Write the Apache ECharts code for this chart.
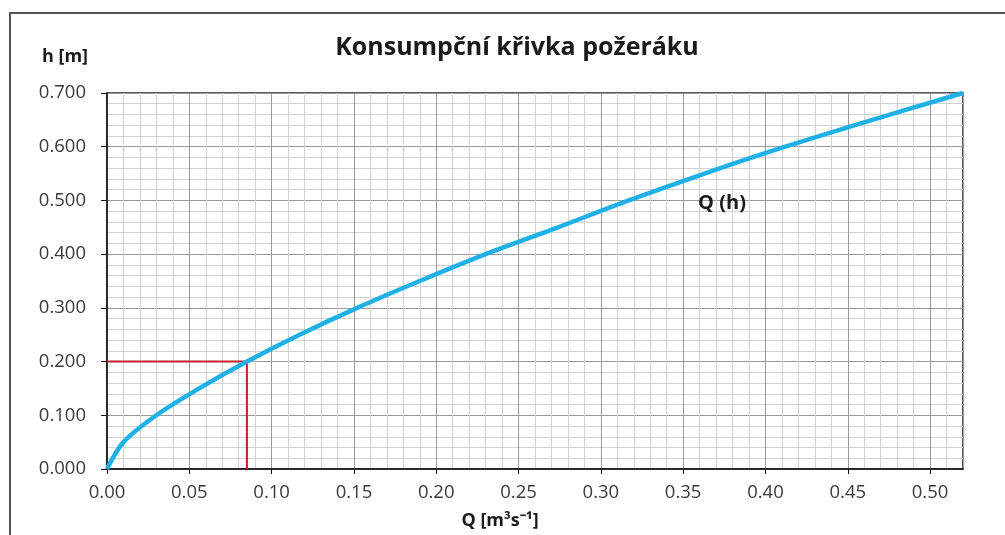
<!DOCTYPE html>
<html>
<head>
<meta charset="utf-8">
<script src="https://cdn.jsdelivr.net/npm/echarts@6/dist/echarts.min.js"></script>
<style>
html,body{margin:0;padding:0;background:#fff;}
#c{width:1005px;height:535px;}
</style>
</head>
<body>
<div id="c"></div>
<script>
// Data
const titleText = 'Konsumpční křivka požeráku';
const hValues = [0, 0.05, 0.10, 0.15, 0.20, 0.25, 0.30, 0.35, 0.40, 0.45, 0.50, 0.55, 0.60, 0.65, 0.70];
const qValues = [0, 0.010, 0.030, 0.056, 0.085, 0.117, 0.152, 0.190, 0.230, 0.274, 0.317, 0.363, 0.412, 0.465, 0.520];
const refQ = 0.085;
const refH = 0.200;
const xAxisName = 'Q [m³s⁻¹]';
const yAxisName = 'h [m]';
const seriesName = 'Q (h)';

const curve = qValues.map((q, i) => [q, hValues[i]]);
const refLine = [[0, refH], [refQ, refH], [refQ, 0]];

const FONT = '"Open Sans", sans-serif';
const chart = echarts.init(document.getElementById('c'), null, {renderer: 'canvas'});
chart.setOption({
  animation: false,
  backgroundColor: '#fff',
  title: {
    text: titleText, left: 512, top: 30, textAlign: 'center',
    textStyle: {fontFamily: FONT, fontWeight: 'bold', fontSize: 25, color: '#1a1a1a'}
  },
  grid: {left: 107, right: 42, top: 93, bottom: 66, show: true, borderColor: '#222', borderWidth: 1.5, backgroundColor: '#fff'},
  xAxis: [
    {type: 'value', min: 0, max: 0.52, interval: 0.01, position: 'bottom',
     axisLine: {show: false}, axisTick: {show: false}, axisLabel: {show: false},
     splitLine: {show: true, lineStyle: {color: '#d2d2d2', width: 1}}},
    {type: 'value', min: 0, max: 0.52, interval: 0.05, position: 'bottom',
     axisLine: {show: true, onZero: false, lineStyle: {color: '#111', width: 1.5}},
     axisTick: {show: true, inside: false, length: 5, lineStyle: {color: '#111'}},
     axisLabel: {show: true, margin: 14, showMaxLabel: false, fontFamily: FONT, fontSize: 18.5, color: '#3a3a3a',
       formatter: v => v.toFixed(2)},
     splitLine: {show: true, lineStyle: {color: '#9a9a9a', width: 1}}}
  ],
  yAxis: [
    {type: 'value', min: 0, max: 0.7, interval: 0.02, position: 'left',
     axisLine: {show: false}, axisTick: {show: false}, axisLabel: {show: false},
     splitLine: {show: true, lineStyle: {color: '#d2d2d2', width: 1}}},
    {type: 'value', min: 0, max: 0.7, interval: 0.1, position: 'left',
     axisLine: {show: true, onZero: false, lineStyle: {color: '#111', width: 1.5}},
     axisTick: {show: true, inside: false, length: 6, lineStyle: {color: '#111'}},
     axisLabel: {show: true, margin: 21, fontFamily: FONT, fontSize: 18.5, color: '#3a3a3a',
       formatter: v => v.toFixed(3)},
     splitLine: {show: true, lineStyle: {color: '#9a9a9a', width: 1}}}
  ],
  series: [
    {type: 'line', name: 'ref', xAxisIndex: 1, yAxisIndex: 1, data: refLine,
     symbol: 'none', lineStyle: {color: '#c4202b', width: 2}, z: 3},
    {type: 'line', name: seriesName, xAxisIndex: 1, yAxisIndex: 1, data: curve,
     symbol: 'none', smooth: 0.3, lineStyle: {color: '#1fb0e6', width: 4.5}, z: 4}
  ],
  graphic: [
    {type: 'rect', shape: {x: 10, y: 13, width: 1100, height: 700},
     style: {fill: null, stroke: '#555', lineWidth: 2}, silent: true, z: 100},
    {type: 'text', x: 65, y: 57, style: {text: yAxisName, fontFamily: FONT, fontWeight: 'bold', fontSize: 18,
     fill: '#1a1a1a', align: 'center', verticalAlign: 'middle'}},
    {type: 'text', x: 500, y: 521, style: {text: xAxisName, fontFamily: FONT, fontWeight: 'bold', fontSize: 18,
     fill: '#1a1a1a', align: 'center', verticalAlign: 'middle'}},
    {type: 'text', x: 722, y: 203, style: {text: seriesName, fontFamily: FONT, fontWeight: 'bold', fontSize: 20,
     fill: '#1a1a1a', align: 'center', verticalAlign: 'middle'}, z: 50}
  ]
});
</script>
</body>
</html>
